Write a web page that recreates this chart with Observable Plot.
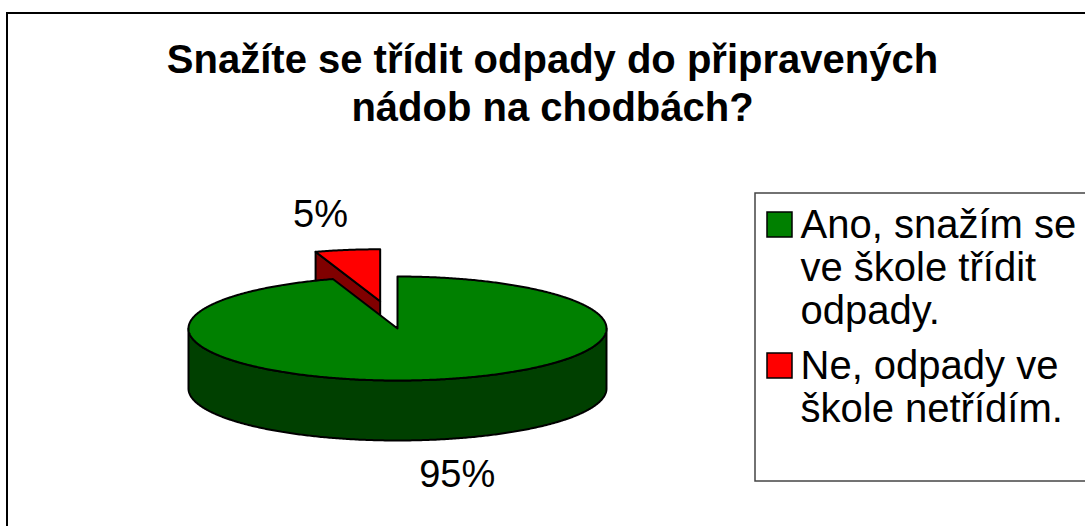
<!DOCTYPE html>
<html><head><meta charset="utf-8">
<script src="https://cdn.jsdelivr.net/npm/d3@7"></script>
<script src="https://cdn.jsdelivr.net/npm/@observablehq/plot@0.6"></script>
<style>
html,body{margin:0;padding:0;background:#fff;overflow:hidden;}
#chart svg{display:block;max-width:none;}
</style>
</head><body><div id="chart"></div>
<script>
// ---- data ----
const categories = ["Ano, snažím se ve škole třídit odpady.", "Ne, odpady ve škole netřídím."];
const values = [95, 5];
const valueLabels = ["95%", "5%"];
const legendLabels = ["Ano, snažím se\nve škole třídit\nodpady.", "Ne, odpady ve\nškole netřídím."];
const topColors = ["#008000", "#FF0000"];
const sideColors = ["#004000", "#800000"];
const exploded = [false, true];
const titleLines = ["Snažíte se třídit odpady do připravených", "nádob na chodbách?"];

// ---- layout ----
const W = 1085, H = 526;
const FONT = "Liberation Sans, Arial, Helvetica, sans-serif";
const pie = {cx: 397, cy: 328, rx: 209, ry: 52, depth: 60, explode: 0.53};
const layout = {
  frame: {x: 7, y: 13},
  title: {x: 552, y: 72, lineHeight: 48, size: 40},
  legend: {x1: 755, y1: 193, x2: 1110, y2: 481, swatchX: 767, swatch: 25, textX: 800,
           firstBaseline: 237, lineHeight: 43, itemGap: 12, size: 40},
  labelGap: {x: 27, y: 35}, labelSize: 38
};

// ---- geometry from data ----
const total = d3.sum(values);
let acc = 0;
const slices = values.map((v, i) => {
  const a0 = acc / total * 2 * Math.PI;
  acc += v;
  const a1 = acc / total * 2 * Math.PI;
  const mid = (a0 + a1) / 2;
  const k = exploded[i] ? pie.explode : 0;
  return {i, a0, a1, mid, ox: k * pie.rx * Math.sin(mid), oy: -k * pie.ry * Math.cos(mid)};
});

function pt(t, ox, oy, dz) {
  return {x: pie.cx + ox + pie.rx * Math.sin(t), y: pie.cy + oy - pie.ry * Math.cos(t) + dz};
}
function arcPts(a0, a1, ox, oy, dz) {
  const n = Math.max(2, Math.ceil(Math.abs(a1 - a0) / (Math.PI / 360)));
  return d3.range(n + 1).map(k => pt(a0 + (a1 - a0) * k / n, ox, oy, dz));
}

const faces = [];
const order = slices.slice().sort((a, b) => Math.cos(b.mid) - Math.cos(a.mid));
for (const s of order) {
  const c = {x: pie.cx + s.ox, y: pie.cy + s.oy};
  const cb = {x: c.x, y: c.y + pie.depth};
  if (Math.sin(s.a0) < -1e-9) {
    faces.push({fill: sideColors[s.i], pts: [c, pt(s.a0, s.ox, s.oy, 0), pt(s.a0, s.ox, s.oy, pie.depth), cb]});
  }
  if (Math.sin(s.a1) > 1e-9) {
    faces.push({fill: sideColors[s.i], pts: [c, pt(s.a1, s.ox, s.oy, 0), pt(s.a1, s.ox, s.oy, pie.depth), cb]});
  }
  const st = Math.max(s.a0, Math.PI / 2), en = Math.min(s.a1, 3 * Math.PI / 2);
  if (st < en) {
    faces.push({fill: sideColors[s.i], pts: [...arcPts(st, en, s.ox, s.oy, 0), ...arcPts(en, st, s.ox, s.oy, pie.depth)]});
  }
  faces.push({fill: topColors[s.i], pts: [c, ...arcPts(s.a0, s.a1, s.ox, s.oy, 0)]});
}

const labels = slices.map(s => {
  const front = Math.cos(s.mid) < 0;
  const r = pt(s.mid, s.ox, s.oy, front ? pie.depth : 0);
  return {x: r.x + layout.labelGap.x * Math.sign(Math.sin(s.mid)),
          y: r.y - layout.labelGap.y * Math.sign(Math.cos(s.mid)),
          text: valueLabels[s.i]};
});

// legend rows
const L = layout.legend;
const legendSw = [], legendText = [];
let base = L.firstBaseline;
legendLabels.forEach((lab, i) => {
  const lines = lab.split("\n");
  legendSw.push({i, y1: base - L.swatch, y2: base, fill: topColors[i], name: categories[i]});
  lines.forEach((ln, j) => legendText.push({x: L.textX, y: base + j * L.lineHeight, text: ln}));
  base += lines.length * L.lineHeight + L.itemGap;
});

const T = layout.title;
const marks = [
  Plot.rect([0], {x1: layout.frame.x, x2: W + 40, y1: layout.frame.y, y2: H + 40, fill: "white", stroke: "black", strokeWidth: 2}),
  Plot.text(titleLines, {x: () => T.x, y: (d, i) => T.y + i * T.lineHeight, text: d => d,
    fontSize: T.size, fontWeight: "bold", fontFamily: FONT, textAnchor: "middle", lineAnchor: "bottom", fill: "black"}),
  ...faces.map(f => Plot.line(f.pts, {x: "x", y: "y", fill: f.fill, stroke: "black", strokeWidth: 2,
    curve: "linear-closed", strokeLinejoin: "round"})),
  Plot.text(labels, {x: "x", y: "y", text: "text", fontSize: layout.labelSize, fontFamily: FONT,
    textAnchor: "middle", lineAnchor: "middle", fill: "black"}),
  Plot.rect([0], {x1: L.x1, x2: L.x2, y1: L.y1, y2: L.y2, fill: "white", stroke: "#444", strokeWidth: 1.5}),
  Plot.rect(legendSw, {x1: L.swatchX, x2: L.swatchX + L.swatch, y1: "y1", y2: "y2", fill: "fill", stroke: "black", strokeWidth: 1.5}),
  Plot.text(legendText, {x: "x", y: "y", text: "text", fontSize: L.size, fontFamily: FONT,
    textAnchor: "start", lineAnchor: "bottom", fill: "black"})
];

const chart = Plot.plot({
  width: W, height: H, margin: 0,
  x: {domain: [0, W], axis: null},
  y: {domain: [H, 0], axis: null},
  color: {type: "identity"},
  style: {background: "white", overflow: "hidden"},
  marks
});
document.getElementById("chart").append(chart);
</script>
</body></html>
